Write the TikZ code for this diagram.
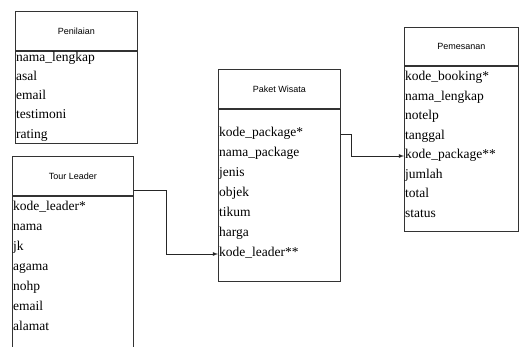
\documentclass[tikz,border=0pt]{standalone}
\usepackage{fontspec}
\setmainfont{Liberation Serif}
\newfontfamily\headfont{Liberation Sans}
\tikzset{
  tablehead/.style={draw=black!80, line width=0.8pt, inner sep=0pt, anchor=north west,
    font=\headfont\fontsize{9}{10}\selectfont},
  tablebody/.style={draw=black!80, line width=0.8pt, inner sep=0pt, anchor=north},
  field/.style={anchor=west, inner sep=0pt, text height=9pt, text depth=3pt,
    font=\fontsize{13.5}{15}\selectfont},
  link/.style={draw=black!85, line width=0.8pt, -latex},
}
\begin{document}
\begin{tikzpicture}[x=1pt,y=1pt,yscale=-1]
\useasboundingbox (0,0) rectangle (520,347);

%Shape: Rectangle [Penilaian]
\node[tablehead, minimum width=122pt, minimum height=39pt] (pen-head) at (15,11) {Penilaian};
\node[tablebody, minimum width=122pt, minimum height=92pt] (pen-body) at (pen-head.south) {};
% Text Node
\node[field] (pen-r1) at (16,59) {nama\_lengkap};
\node[field] (pen-r2) at (16,78) {asal};
\node[field] (pen-r3) at (16,97) {email};
\node[field] (pen-r4) at (16,116) {testimoni};
\node[field] (pen-r5) at (16,136) {rating};

%Shape: Rectangle [Tour Leader]
\node[tablehead, minimum width=121pt, minimum height=39pt] (tl-head) at (12,156) {Tour Leader};
\node[tablebody, minimum width=121pt, minimum height=170pt] (tl-body) at (tl-head.south) {};
% Text Node
\node[field] (tl-r1) at (13,208) {kode\_leader*};
\node[field] (tl-r2) at (13,228) {nama};
\node[field] (tl-r3) at (13,248) {jk};
\node[field] (tl-r4) at (13,268) {agama};
\node[field] (tl-r5) at (13,288) {nohp};
\node[field] (tl-r6) at (13,308) {email};
\node[field] (tl-r7) at (13,328) {alamat};

%Shape: Rectangle [Paket Wisata]
\node[tablehead, minimum width=122pt, minimum height=39pt] (pw-head) at (218,69) {Paket Wisata};
\node[tablebody, minimum width=122pt, minimum height=172pt] (pw-body) at (pw-head.south) {};
% Text Node
\node[field] (pw-r1) at (219,134) {kode\_package*};
\node[field] (pw-r2) at (219,154) {nama\_package};
\node[field] (pw-r3) at (219,174) {jenis};
\node[field] (pw-r4) at (219,194) {objek};
\node[field] (pw-r5) at (219,214) {tikum};
\node[field] (pw-r6) at (219,234) {harga};
\node[field] (pw-r7) at (219,254) {kode\_leader**};

%Shape: Rectangle [Pemesanan]
\node[tablehead, minimum width=114pt, minimum height=38pt] (pm-head) at (404,27) {Pemesanan};
\node[tablebody, minimum width=114pt, minimum height=165pt] (pm-body) at (pm-head.south) {};
% Text Node
\node[field] (pm-r1) at (405,78) {kode\_booking*};
\node[field] (pm-r2) at (405,97.5) {nama\_lengkap};
\node[field] (pm-r3) at (405,117) {notelp};
\node[field] (pm-r4) at (405,136.5) {tanggal};
\node[field] (pm-r5) at (405,156) {kode\_package**};
\node[field] (pm-r6) at (405,175.5) {jumlah};
\node[field] (pm-r7) at (405,195) {total};
\node[field] (pm-r8) at (405,214.5) {status};

%Connector Lines
\coordinate (tl-out) at ([yshift=-5pt]tl-body.north east);
\draw[link] (tl-out) -- ++(33,0) |- (pw-body.west |- pw-r7);
\draw[link] (pw-body.east |- pw-r1) -- ++(11,0) |- (pm-body.west |- pm-r5);

\end{tikzpicture}
\end{document}
